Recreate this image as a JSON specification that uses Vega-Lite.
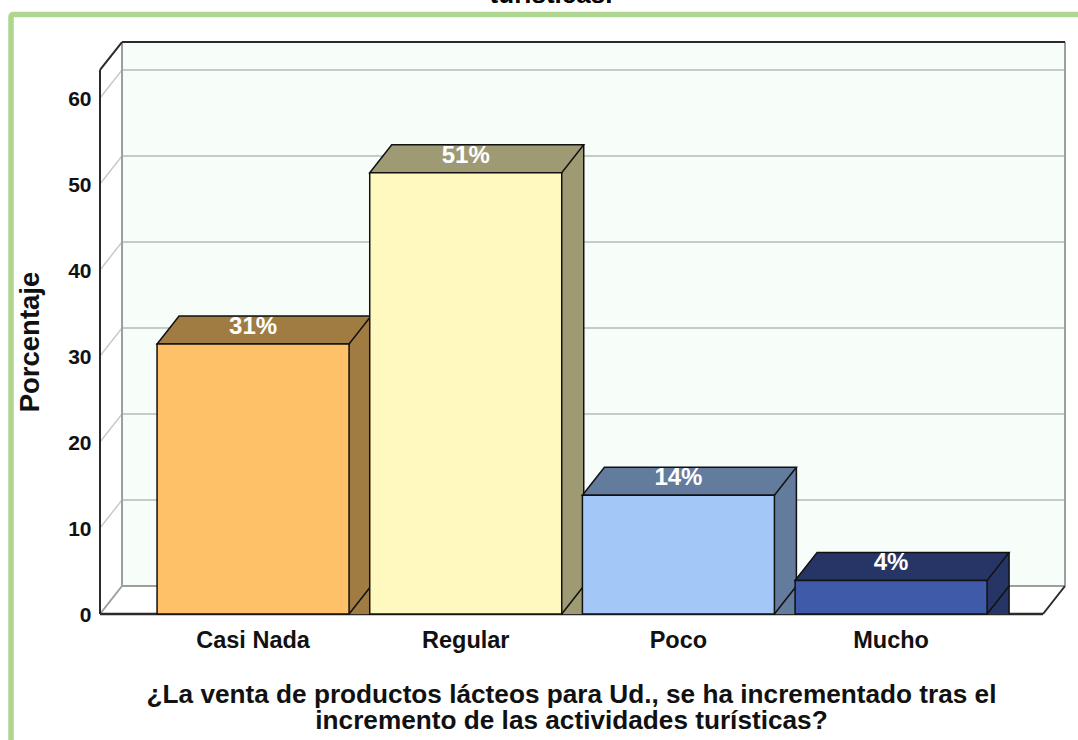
{
"$schema":"https://vega.github.io/schema/vega-lite/v6.json",
"width":1080,"height":740,
"autosize":{"type":"none"},
"padding":{"left":11,"top":14.5,"right":0,"bottom":0},
"background":"white",
"view":{"stroke":"#AFD68F","strokeWidth":5.5,"fill":"white","cornerRadius":2},
"config":{"font":"Liberation Sans"},
"datasets":{
"barras":[
{"categoria":"Casi Nada","porcentaje":31.4,"etiqueta":"31%"},
{"categoria":"Regular","porcentaje":51.3,"etiqueta":"51%"},
{"categoria":"Poco","porcentaje":13.8,"etiqueta":"14%"},
{"categoria":"Mucho","porcentaje":3.9,"etiqueta":"4%"}],
"niveles":[{"v":10},{"v":20},{"v":30},{"v":40},{"v":50},{"v":60}],
"bordesOscuros":[
{"a":100,"b":122,"c":63.26,"d":66.51,"w":2},
{"a":122,"b":1065,"c":66.51,"d":66.51,"w":2},
{"a":100,"b":100,"c":63.26,"d":0,"w":2},
{"a":100,"b":1043,"c":0,"d":0,"w":2.5},
{"a":1043,"b":1065,"c":0,"d":3.256,"w":2}],
"bordesGrises":[
{"a":122,"b":122,"c":66.51,"d":3.256},
{"a":122,"b":1065,"c":3.256,"d":3.256},
{"a":1065,"b":1065,"c":66.51,"d":3.256},
{"a":100,"b":122,"c":0,"d":3.256}]
},
"data":{"name":"barras"},
"encoding":{},
"resolve":{"scale":{"x":"independent"},"axis":{"x":"independent","y":"independent"}},
"layer":[
{"layer":[
{"data":{"values":[{"k":"pared"}]},"mark":{"type":"rect","fill":"#F7FEFA"},
"encoding":{"x":{"datum":122,"type":"quantitative","scale":{"domain":[11,1091],"nice":false,"zero":false},"axis":null},"x2":{"datum":1065},"y":{"datum":66.51,"type":"quantitative","scale":{"domain":[-16.337,69.709],"nice":false,"zero":false},"axis":null},"y2":{"datum":3.256}}},
{"data":{"values":[{"titulo":"turísticas."}]},"mark":{"type":"text","fontSize":26,"fontWeight":"bold","color":"black","font":"Liberation Sans","baseline":"alphabetic","align":"center"},
"encoding":{"x":{"datum":551,"type":"quantitative","scale":{"domain":[11,1091],"nice":false,"zero":false},"axis":null},"y":{"datum":70.99,"type":"quantitative","axis":null},"text":{"field":"titulo"}}},
{"data":{"name":"niveles"},"mark":{"type":"rule","color":"#C4CCC6","strokeWidth":1.8,"yOffset":-28},
"encoding":{"x":{"datum":122,"type":"quantitative","scale":{"domain":[11,1091],"nice":false,"zero":false},"axis":null},"x2":{"datum":1065},"y":{"field":"v","type":"quantitative","axis":null}}},
{"data":{"name":"niveles"},"mark":{"type":"point","shape":"M0,0L22,-28","size":4,"filled":false,"stroke":"#C8CCC8","strokeWidth":1.5,"opacity":1},
"encoding":{"x":{"datum":100,"type":"quantitative","scale":{"domain":[11,1091],"nice":false,"zero":false},"axis":null},"y":{"field":"v","type":"quantitative","axis":null}}},
{"data":{"name":"bordesGrises"},"mark":{"type":"rule","color":"#9AA09C","strokeWidth":2},
"encoding":{"x":{"field":"a","type":"quantitative","scale":{"domain":[11,1091],"nice":false,"zero":false},"axis":null},"x2":{"field":"b"},"y":{"field":"c","type":"quantitative","axis":null},"y2":{"field":"d"}}},
{"data":{"name":"bordesOscuros"},"mark":{"type":"rule","color":"#2A2A2A"},
"encoding":{"x":{"field":"a","type":"quantitative","scale":{"domain":[11,1091],"nice":false,"zero":false},"axis":null},"x2":{"field":"b"},"y":{"field":"c","type":"quantitative","axis":null},"y2":{"field":"d"},"strokeWidth":{"field":"w","type":"quantitative","scale":null}}}
]},
{"layer":[
{"mark":{"type":"bar","xOffset":22,"yOffset":-28},
"encoding":{"x":{"field":"categoria","type":"nominal","sort":null,"scale":{"paddingInner":0.0972,"paddingOuter":0.5877,"align":0.5843},
"axis":{"orient":"bottom","offset":-140.5,"domain":false,"ticks":false,"grid":false,"labelAngle":0,"labelFontSize":23.5,"labelFontWeight":"bold","labelColor":"#111","labelPadding":14,"labelFont":"Liberation Sans",
"title":["¿La venta de productos lácteos para Ud., se ha incrementado tras el","incremento de las actividades turísticas?"],"titleFontSize":26.2,"titleFontWeight":"bold","titleColor":"#111","titleLineHeight":26,"titleFont":"Liberation Sans","titleX":560,"titleY":67,"titleBaseline":"top","titleAlign":"center","titleAnchor":"middle"}},
"y":{"field":"porcentaje","type":"quantitative","scale":{"domain":[-16.337,69.709],"nice":false,"zero":false},
"axis":{"orient":"left","offset":-89,"domain":false,"ticks":false,"grid":false,"values":[0,10,20,30,40,50,60],"labelFontSize":21,"labelFontWeight":"bold","labelColor":"#111","labelPadding":9,"labelOffset":1.5,"labelFont":"Liberation Sans",
"title":"Porcentaje","titleFontSize":27.5,"titleFontWeight":"bold","titleColor":"#111","titleFont":"Liberation Sans","titleAngle":-90,"titleX":-56,"titleY":327}},
"y2":{"datum":0},
"fill":{"field":"categoria","type":"nominal","legend":null,"scale":{"domain":["Casi Nada","Regular","Poco","Mucho"],"range":["#A07B42","#9E9B74","#637B9C","#263565"]}}}},
{"mark":{"type":"point","shape":"M96,0L118,-28L96,-28Z","size":4,"filled":true,"opacity":1},
"encoding":{"x":{"field":"categoria","type":"nominal","sort":null},"y":{"datum":0,"type":"quantitative"},"fill":{"field":"categoria","type":"nominal","legend":null}}},
{"mark":{"type":"point","shape":"M96,0L118,-28","size":4,"filled":false,"opacity":1,"stroke":"#111","strokeWidth":1.5},
"encoding":{"x":{"field":"categoria","type":"nominal","sort":null},"y":{"datum":0,"type":"quantitative"}}},
{"mark":{"type":"rule","xOffset":22,"yOffset":-28,"color":"#111","strokeWidth":1.5},
"encoding":{"x":{"field":"categoria","type":"nominal","sort":null,"bandPosition":1},"y":{"field":"porcentaje","type":"quantitative"},"y2":{"datum":0}}},
{"mark":{"type":"point","shape":"M-96,0L-74,-28L118,-28L96,0Z","size":4,"filled":true,"opacity":1,"stroke":"#111","strokeWidth":1.5},
"encoding":{"x":{"field":"categoria","type":"nominal","sort":null},"y":{"field":"porcentaje","type":"quantitative"},"fill":{"field":"categoria","type":"nominal","legend":null}}},
{"mark":{"type":"bar","stroke":"#111","strokeWidth":1.5},
"encoding":{"x":{"field":"categoria","type":"nominal","sort":null},"y":{"field":"porcentaje","type":"quantitative"},"y2":{"datum":0},
"color":{"field":"categoria","type":"nominal","legend":null,"scale":{"domain":["Casi Nada","Regular","Poco","Mucho"],"range":["#FFC168","#FFF9C0","#A3C8F7","#3F5AA8"]}}}},
{"mark":{"type":"text","color":"white","fontSize":24,"fontWeight":"bold","font":"Liberation Sans","yOffset":-17,"baseline":"middle"},
"encoding":{"x":{"field":"categoria","type":"nominal","sort":null},"y":{"field":"porcentaje","type":"quantitative"},"text":{"field":"etiqueta"}}}
]}
]
}
